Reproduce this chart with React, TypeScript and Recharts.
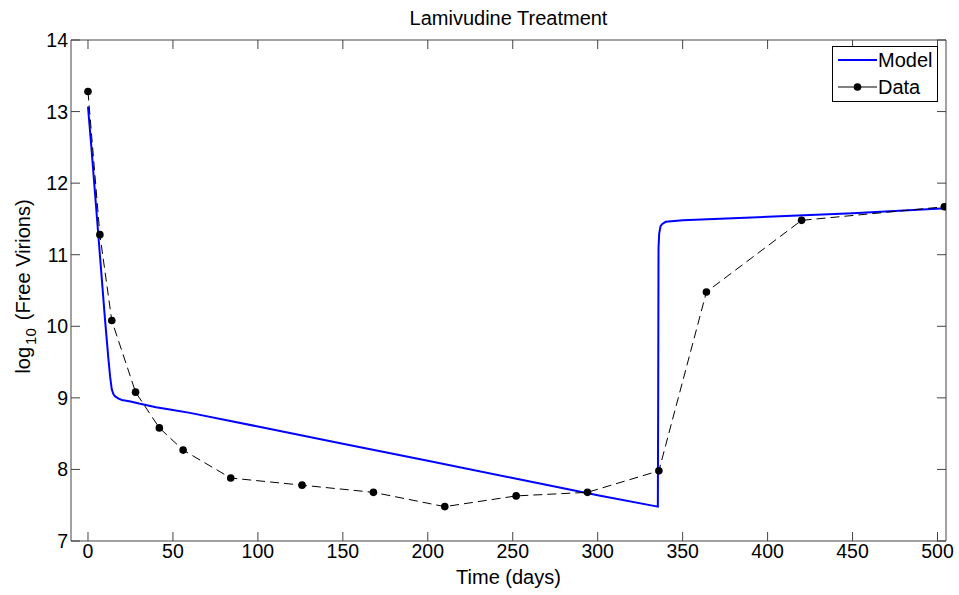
import React from 'react';
import { LineChart, Line, XAxis, YAxis } from 'recharts';

// ---- data ----
const dataDays = [0, 7, 14, 28, 42, 56, 84, 126, 168, 210, 252, 294, 336, 364, 420, 504];
const dataLog = [13.28, 11.28, 10.08, 9.08, 8.58, 8.27, 7.88, 7.78, 7.68, 7.48, 7.63, 7.68, 7.98, 10.48, 11.48, 11.67];

const modelDays = [0, 2, 4, 6, 8, 10, 12, 13, 14, 15, 16, 18, 20, 25, 30, 40, 50, 60, 100, 150, 200, 250, 300, 335.4, 335.6, 335.8, 336.2, 337, 338, 340, 345, 350, 400, 450, 505];
const modelLog = [13.07, 12.5, 11.9, 11.3, 10.7, 10.1, 9.55, 9.3, 9.12, 9.05, 9.02, 8.99, 8.97, 8.95, 8.92, 8.87, 8.83, 8.79, 8.6, 8.36, 8.12, 7.88, 7.64, 7.48, 9.0, 11.1, 11.3, 11.4, 11.43, 11.46, 11.47, 11.48, 11.53, 11.58, 11.65];

const xTicks = [0, 50, 100, 150, 200, 250, 300, 350, 400, 450, 500];
const yTicks = [7, 8, 9, 10, 11, 12, 13, 14];

const chartTitle = 'Lamivudine Treatment';
const xTitle = 'Time (days)';
const seriesNames = ['Model', 'Data'];

const dataPoints = dataDays.map((d, i) => ({ x: d, y: dataLog[i] }));
const modelPoints = modelDays.map((d, i) => ({ x: d, y: modelLog[i] }));

// ---- style ----
const FONT = '"Liberation Sans", Arial, Helvetica, sans-serif';
const W = 959;
const H = 595;
const TICK_LEN = 9;
const AXIS_COLOR = '#444';
const TICK_FONT = 19.5;
const LABEL_FONT = 20;
const MODEL_COLOR = '#0000FF';
const X_DOMAIN: [number, number] = [-10, 505];
const Y_DOMAIN: [number, number] = [7, 14];

const BottomTick = (props: any) => {
  const { x, y, payload } = props;
  return (
    <g>
      <line x1={x} x2={x} y1={y - 3} y2={y - 3 - TICK_LEN} stroke={AXIS_COLOR} strokeWidth={1} />
      <text x={x} y={y} dy="0.74em" textAnchor="middle" fontSize={TICK_FONT} fontFamily={FONT} fill="#000">
        {payload.value}
      </text>
    </g>
  );
};

const TopTick = (props: any) => {
  const { x, y } = props;
  return <line x1={x} x2={x} y1={y} y2={y + TICK_LEN} stroke={AXIS_COLOR} strokeWidth={1} />;
};

const LeftTick = (props: any) => {
  const { x, y, payload } = props;
  return (
    <g>
      <line x1={x + 3} x2={x + 3 + TICK_LEN} y1={y} y2={y} stroke={AXIS_COLOR} strokeWidth={1} />
      <text x={x} y={y} dy="0.36em" textAnchor="end" fontSize={TICK_FONT} fontFamily={FONT} fill="#000">
        {payload.value}
      </text>
    </g>
  );
};

const RightTick = (props: any) => {
  const { x, y } = props;
  return <line x1={x} x2={x - TICK_LEN} y1={y} y2={y} stroke={AXIS_COLOR} strokeWidth={1} />;
};

const YTitle = (props: any) => {
  const { viewBox } = props;
  const cx = 23;
  const cy = viewBox.y + viewBox.height / 2 - 4;
  return (
    <text
      transform={`rotate(-90, ${cx}, ${cy})`}
      x={cx}
      y={cy}
      dy="0.36em"
      textAnchor="middle"
      fontSize={LABEL_FONT}
      fontFamily={FONT}
      fill="#000"
    >
      log
      <tspan fontSize={15} dx={2} dy={6}>10</tspan>
      <tspan dx={8} dy={-6}>(Free Virions)</tspan>
    </text>
  );
};

const XTitle = (props: any) => {
  const { viewBox } = props;
  return (
    <text
      x={viewBox.x + viewBox.width / 2}
      y={viewBox.y + 43}
      textAnchor="middle"
      fontSize={LABEL_FONT}
      fontFamily={FONT}
      fill="#000"
    >
      {xTitle}
    </text>
  );
};

const TopTitle = (props: any) => {
  const { viewBox } = props;
  return (
    <text
      x={viewBox.x + viewBox.width / 2}
      y={viewBox.y + viewBox.height - 15}
      textAnchor="middle"
      fontSize={LABEL_FONT}
      fontFamily={FONT}
      fill="#000"
    >
      {chartTitle}
    </text>
  );
};

const LegendBox = () => (
  <div
    style={{
      position: 'absolute',
      left: 832,
      top: 46,
      width: 106,
      height: 56,
      boxSizing: 'border-box',
      border: '1px solid #000',
      background: '#fff',
    }}
  >
    <svg width={104} height={54} style={{ display: 'block' }}>
      <line x1={5} x2={44} y1={13} y2={13} stroke={MODEL_COLOR} strokeWidth={2} />
      <text x={45} y={13} dy="0.36em" fontSize={LABEL_FONT} fontFamily={FONT} fill="#000">
        {seriesNames[0]}
      </text>
      <line x1={5} x2={44} y1={40} y2={40} stroke="#000" strokeWidth={1} />
      <circle cx={24.5} cy={40} r={3.8} fill="#000" />
      <text x={45} y={40} dy="0.36em" fontSize={LABEL_FONT} fontFamily={FONT} fill="#000">
        {seriesNames[1]}
      </text>
    </svg>
  </div>
);

export default function App() {
  return (
    <div style={{ position: 'absolute', left: 0, top: 0, width: W, height: H, background: '#fff' }}>
      <LineChart width={W} height={H} margin={{ top: 39, right: 12, bottom: 0, left: 0 }}>
        <XAxis
          xAxisId="bottom"
          dataKey="x"
          type="number"
          domain={X_DOMAIN}
          allowDataOverflow
          ticks={xTicks}
          interval={0}
          height={54}
          tickSize={0}
          tickMargin={3}
          tick={<BottomTick />}
          tickLine={false}
          axisLine={{ stroke: AXIS_COLOR }}
          label={<XTitle />}
        />
        <XAxis
          xAxisId="top"
          orientation="top"
          dataKey="x"
          type="number"
          domain={X_DOMAIN}
          allowDataOverflow
          ticks={xTicks}
          interval={0}
          height={1}
          tickSize={0}
          tickMargin={0}
          tick={<TopTick />}
          tickLine={false}
          axisLine={{ stroke: AXIS_COLOR }}
          label={<TopTitle />}
        />
        <YAxis
          yAxisId="left"
          type="number"
          domain={Y_DOMAIN}
          allowDataOverflow
          ticks={yTicks}
          interval={0}
          width={71}
          tickSize={0}
          tickMargin={3}
          tick={<LeftTick />}
          tickLine={false}
          axisLine={{ stroke: AXIS_COLOR }}
          label={<YTitle />}
        />
        <YAxis
          yAxisId="right"
          orientation="right"
          type="number"
          domain={Y_DOMAIN}
          allowDataOverflow
          ticks={yTicks}
          interval={0}
          width={1}
          tickSize={0}
          tickMargin={0}
          tick={<RightTick />}
          tickLine={false}
          axisLine={{ stroke: AXIS_COLOR }}
        />
        <Line
          xAxisId="bottom"
          yAxisId="left"
          data={modelPoints}
          dataKey="y"
          name={seriesNames[0]}
          type="linear"
          stroke={MODEL_COLOR}
          strokeWidth={2}
          dot={false}
          isAnimationActive={false}
        />
        <Line
          xAxisId="top"
          yAxisId="right"
          data={dataPoints}
          dataKey="y"
          name={seriesNames[1]}
          type="linear"
          stroke="#000"
          strokeWidth={1}
          strokeDasharray="9 5"
          dot={{ r: 3.8, fill: '#000', stroke: '#000', strokeWidth: 0, strokeDasharray: '' }}
          isAnimationActive={false}
        />
      </LineChart>
      <LegendBox />
    </div>
  );
}
